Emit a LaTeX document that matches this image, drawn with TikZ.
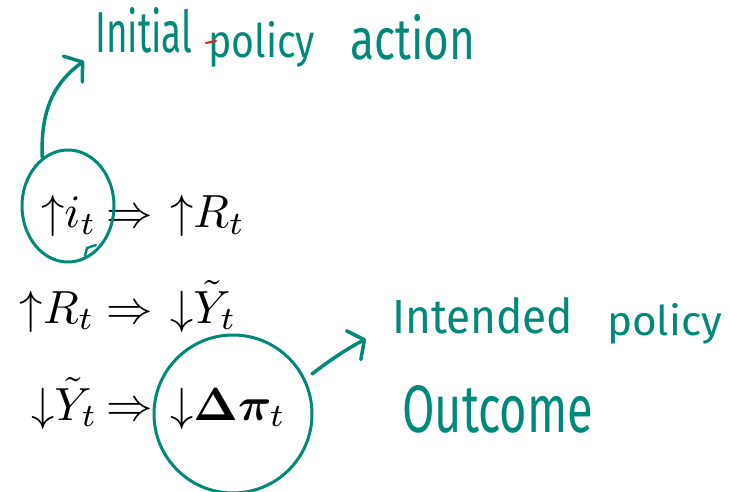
\documentclass[tikz,border=0pt]{standalone}
\usepackage{amsmath}
\usepackage{bm}
\usepackage[no-math]{fontspec}
\newfontfamily\handfont{Fira Sans}
\usetikzlibrary{shapes.geometric,arrows.meta}
\definecolor{ink}{RGB}{0,136,120}
\definecolor{redink}{RGB}{232,30,30}
\newcommand{\eqbig}[1]{\scalebox{4.65}{$#1$}}
\tikzset{
  mathtxt/.style={inner sep=0pt},
  hand/.style={inner sep=0pt, text=ink, anchor=base west},
  ring/.style={draw=ink, line width=3pt},
  handarrow/.style={draw=ink, line width=3.5pt, line cap=round,
    -{Straight Barb[round, length=12pt, width=32pt, line width=3.5pt]}}
}
\begin{document}
\begin{tikzpicture}[x=1pt,y=-1pt]
\useasboundingbox (0,0) rectangle (729,492);
% equations
\node[mathtxt, anchor=base east] (l1) at (97,228) {\eqbig{{\uparrow} i_t}};
\node[mathtxt, anchor=base] (r1) at (130,228) {\eqbig{\Rightarrow}};
\node[mathtxt, anchor=base west] (h1) at (170,228) {\eqbig{{\uparrow} R_t}};
\node[mathtxt, anchor=base east] (l2) at (95,323) {\eqbig{{\uparrow} R_t}};
\node[mathtxt, anchor=base] (r2) at (130,323) {\eqbig{\Rightarrow}};
\node[mathtxt, anchor=base west] (h2) at (170,323) {\eqbig{{\downarrow} \tilde{Y}_t}};
\node[mathtxt, anchor=base east] (l3) at (98,420) {\eqbig{{\downarrow} \tilde{Y}_t}};
\node[mathtxt, anchor=base] (r3) at (130,420) {\eqbig{\Rightarrow}};
\node[mathtxt, anchor=base west] (h3) at (170,420) {\eqbig{{\downarrow} \bm{\Delta\pi}_t}};
% circles
\node[ring, ellipse, minimum width=92pt, minimum height=112pt] (c1) at (68,206) {};
\node[ring, circle, minimum size=158pt] (c2) at (233,414) {};
\draw[ink, line width=2.5pt, line cap=round] (85,256) -- (87,248) -- (96,245);
% handwritten labels
\node[hand] (t1) at (95,53) {\resizebox{97pt}{45pt}{\handfont Initial}};
\node[hand] (t2) at (208,58) {\resizebox{107pt}{36pt}{\handfont policy}};
\node[hand] (t3) at (350,60) {\resizebox{125pt}{45pt}{\handfont action}};
\draw[redink, line width=2pt, line cap=round] (206,43) -- (216,41);
\node[hand] (t4) at (392,333) {\resizebox{181pt}{36pt}{\handfont Intended}};
\node[hand] (t5) at (607,335) {\resizebox{115pt}{32pt}{\handfont policy}};
\node[hand] (t6) at (402,432) {\resizebox{191pt}{47pt}{\handfont Outcome}};
% arrows
\coordinate (a1e) at (84,61);
\coordinate (a2s) at (312,374);
\coordinate (a2e) at (366,339);
\draw[handarrow] (c1.118) .. controls (40,105) and (58,80) .. (a1e);
\draw[handarrow] (a2s) .. controls (330,360) and (350,347) .. (a2e);
\end{tikzpicture}
\end{document}
